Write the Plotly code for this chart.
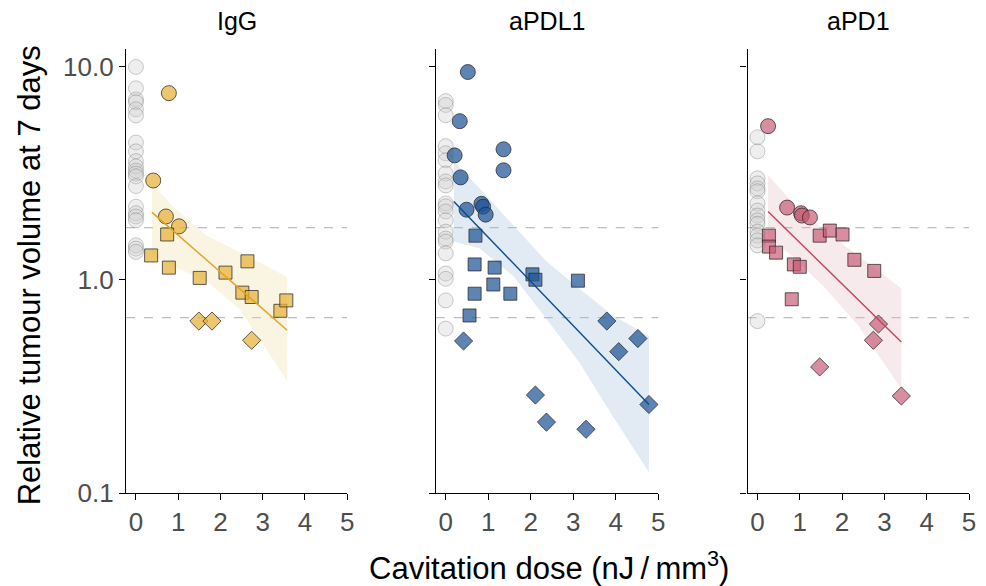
import plotly.graph_objects as go

# ---------------- data ----------------
panels = ["IgG", "aPDL1", "aPD1"]

# controls (x = 0)
igg_ctrl_y = [9.95, 7.9, 7.0, 6.8, 6.3, 5.9, 4.4, 4.0, 3.6, 3.4, 3.25, 3.15, 3.05, 2.75,
              2.2, 2.05, 1.98, 1.9, 1.45, 1.40, 1.35]
apdl1_ctrl_y = [6.88, 6.6, 5.91, 4.23, 3.92, 3.63, 3.15, 2.89, 2.77, 2.28, 2.21, 2.09, 1.90,
                1.68, 1.56, 1.51, 1.33, 1.07, 1.01, 0.80, 0.59]
apd1_ctrl_y = [4.66, 4.0, 2.99, 2.83, 2.68, 2.6, 2.28, 2.11, 2.0, 1.9, 1.83, 1.68, 1.61,
               1.53, 1.45, 0.64]

# IgG
igg_circ_x = [0.78, 0.41, 0.71, 1.02]
igg_circ_y = [7.5, 2.92, 1.98, 1.78]
igg_sq_x = [0.36, 0.74, 0.78, 1.51, 2.12, 2.64, 2.52, 2.74, 3.42, 3.56]
igg_sq_y = [1.30, 1.63, 1.14, 1.02, 1.08, 1.22, 0.87, 0.83, 0.715, 0.80]
igg_dia_x = [1.49, 1.80, 2.74]
igg_dia_y = [0.64, 0.64, 0.52]
igg_fit_x = [0.38, 3.58]
igg_fit_y = [2.07, 0.58]
igg_band_x = [0.38, 0.88, 1.68, 2.45, 3.58]
igg_band_hi = [2.83, 2.2, 1.61, 1.35, 1.03]
igg_band_lo = [1.30, 1.16, 0.98, 0.73, 0.335]

# aPDL1
apdl1_circ_x = [0.52, 0.33, 0.21, 1.36, 1.36, 0.35, 0.49, 0.84, 0.88, 0.94]
apdl1_circ_y = [9.42, 5.54, 3.83, 4.09, 3.26, 3.02, 2.13, 2.27, 2.20, 2.02]
apdl1_sq_x = [0.70, 0.68, 1.15, 1.12, 0.68, 1.52, 2.04, 2.11, 3.11, 0.56]
apdl1_sq_y = [1.61, 1.18, 1.14, 0.95, 0.86, 0.86, 1.06, 1.00, 0.99, 0.68]
apdl1_dia_x = [0.42, 3.79, 4.52, 4.07, 2.11, 2.37, 3.30, 4.78]
apdl1_dia_y = [0.516, 0.64, 0.53, 0.46, 0.288, 0.215, 0.199, 0.26]
apdl1_fit_x = [0.19, 4.78]
apdl1_fit_y = [2.33, 0.26]
apdl1_band_x = [0.19, 0.80, 1.59, 2.37, 3.14, 3.93, 4.78]
apdl1_band_hi = [3.59, 2.68, 1.80, 1.22, 0.91, 0.68, 0.545]
apdl1_band_lo = [1.51, 1.40, 1.04, 0.655, 0.41, 0.229, 0.125]

# aPD1
apd1_circ_x = [0.25, 0.70, 1.03, 1.05, 1.24]
apd1_circ_y = [5.25, 2.18, 2.05, 2.0, 1.96]
apd1_sq_x = [0.27, 0.27, 0.44, 0.86, 1.00, 0.81, 1.47, 1.71, 2.01, 2.29, 2.76]
apd1_sq_y = [1.61, 1.43, 1.34, 1.18, 1.15, 0.81, 1.61, 1.70, 1.63, 1.24, 1.10]
apd1_dia_x = [2.86, 2.74, 1.47, 3.40]
apd1_dia_y = [0.62, 0.52, 0.39, 0.285]
apd1_fit_x = [0.25, 3.40]
apd1_fit_y = [2.09, 0.51]
apd1_band_x = [0.25, 0.81, 1.61, 2.38, 3.40]
apd1_band_hi = [3.09, 2.33, 1.68, 1.30, 0.91]
apd1_band_lo = [1.59, 1.30, 0.91, 0.61, 0.307]

thresholds = [1.757, 0.665]
x_tick_vals = [0, 1, 2, 3, 4, 5]
y_tick_vals = [0.1, 1, 10]
y_tick_text = ["0.1", "1.0", "10.0"]

# ---------------- style ----------------
styles = {
    "IgG": dict(fill="rgba(230,178,55,0.72)", line="#E2A21E", band="rgba(241,222,170,0.33)"),
    "aPDL1": dict(fill="rgba(30,85,150,0.72)", line="#0B4A92", band="rgba(160,185,215,0.3)"),
    "aPD1": dict(fill="rgba(198,88,115,0.68)", line="#C3435E", band="rgba(230,185,195,0.3)"),
}
groups = {
    "IgG": (igg_ctrl_y, igg_circ_x, igg_circ_y, igg_sq_x, igg_sq_y, igg_dia_x, igg_dia_y,
            igg_fit_x, igg_fit_y, igg_band_x, igg_band_hi, igg_band_lo),
    "aPDL1": (apdl1_ctrl_y, apdl1_circ_x, apdl1_circ_y, apdl1_sq_x, apdl1_sq_y, apdl1_dia_x,
              apdl1_dia_y, apdl1_fit_x, apdl1_fit_y, apdl1_band_x, apdl1_band_hi, apdl1_band_lo),
    "aPD1": (apd1_ctrl_y, apd1_circ_x, apd1_circ_y, apd1_sq_x, apd1_sq_y, apd1_dia_x,
             apd1_dia_y, apd1_fit_x, apd1_fit_y, apd1_band_x, apd1_band_hi, apd1_band_lo),
}

FONT = "Liberation Sans, Arial, sans-serif"
outline = dict(color="rgba(40,40,40,0.75)", width=1)

fig = go.Figure()
for i, name in enumerate(panels, start=1):
    xa = "x" if i == 1 else f"x{i}"
    ya = "y" if i == 1 else f"y{i}"
    (ctrl_y, cx, cy, sx, sy, dx, dy, fx, fy, bx, bhi, blo) = groups[name]
    st = styles[name]
    # confidence band
    fig.add_trace(go.Scatter(x=bx + bx[::-1], y=bhi + blo[::-1], fill="toself",
                             fillcolor=st["band"], line=dict(width=0), mode="lines",
                             hoverinfo="skip", xaxis=xa, yaxis=ya, showlegend=False))
    # controls
    fig.add_trace(go.Scatter(x=[0] * len(ctrl_y), y=ctrl_y, mode="markers",
                             marker=dict(symbol="circle", size=15, color="rgba(205,205,205,0.35)",
                                         line=dict(color="rgba(110,110,110,0.35)", width=1)),
                             xaxis=xa, yaxis=ya, showlegend=False))
    fig.add_trace(go.Scatter(x=cx, y=cy, mode="markers",
                             marker=dict(symbol="circle", size=15, color=st["fill"], line=outline),
                             xaxis=xa, yaxis=ya, showlegend=False))
    fig.add_trace(go.Scatter(x=sx, y=sy, mode="markers",
                             marker=dict(symbol="square", size=13, color=st["fill"], line=outline),
                             xaxis=xa, yaxis=ya, showlegend=False))
    fig.add_trace(go.Scatter(x=dx, y=dy, mode="markers",
                             marker=dict(symbol="diamond", size=14, color=st["fill"], line=outline),
                             xaxis=xa, yaxis=ya, showlegend=False))
    fig.add_trace(go.Scatter(x=fx, y=fy, mode="lines", line=dict(color=st["line"], width=1.4),
                             xaxis=xa, yaxis=ya, showlegend=False))
    for t in thresholds:
        fig.add_shape(type="line", xref=f"{xa} domain", yref=ya, x0=0, x1=1, y0=t, y1=t,
                      line=dict(color="#BDBDBD", width=1.2, dash="dash"), layer="below")

doms = [[0.0, 0.2623], [0.3674, 0.6314], [0.7373, 1.0]]
axis_common = dict(showline=True, linecolor="black", linewidth=1.3, ticks="outside", ticklen=6,
                   tickcolor="black", tickwidth=1.2, showgrid=False, zeroline=False,
                   tickfont=dict(family=FONT, size=26, color="#4D4D4D"))
layout = dict(
    width=986, height=586, plot_bgcolor="white", paper_bgcolor="white",
    margin=dict(l=126, r=10, t=49, b=93),
    font=dict(family=FONT),
    showlegend=False,
)
for i in range(1, 4):
    xk = "xaxis" if i == 1 else f"xaxis{i}"
    yk = "yaxis" if i == 1 else f"yaxis{i}"
    layout[xk] = dict(axis_common, domain=doms[i - 1], range=[-0.235, 5.0], tickvals=x_tick_vals,
                      anchor="y" if i == 1 else f"y{i}")
    layout[yk] = dict(axis_common, type="log", range=[-1, 1.082], tickvals=y_tick_vals,
                      ticktext=y_tick_text, showticklabels=(i == 1),
                      anchor="x" if i == 1 else f"x{i}")
fig.update_layout(**layout)

ann = []
for i, name in enumerate(panels):
    ann.append(dict(text=name, x=(doms[i][0] + doms[i][1]) / 2, y=1.062, xref="paper", yref="paper",
                    xanchor="center", yanchor="middle", showarrow=False,
                    font=dict(family=FONT, size=25, color="black")))
ann.append(dict(text="Cavitation dose (nJ\u2009/\u2009mm<sup>3</sup>)", x=0.502, y=-0.165,
                xref="paper", yref="paper", xanchor="center", yanchor="middle", showarrow=False,
                font=dict(family=FONT, size=31, color="black")))
ann.append(dict(text="Relative tumour volume at 7 days", x=-0.114, y=0.49, xref="paper",
                yref="paper", xanchor="center", yanchor="middle", textangle=-90, showarrow=False,
                font=dict(family=FONT, size=31, color="black")))
fig.update_layout(annotations=ann)

fig.write_html("out.html", config={"displayModeBar": False},
               post_script="document.body.style.margin='0px';"
                           "document.body.style.overflow='hidden';")
